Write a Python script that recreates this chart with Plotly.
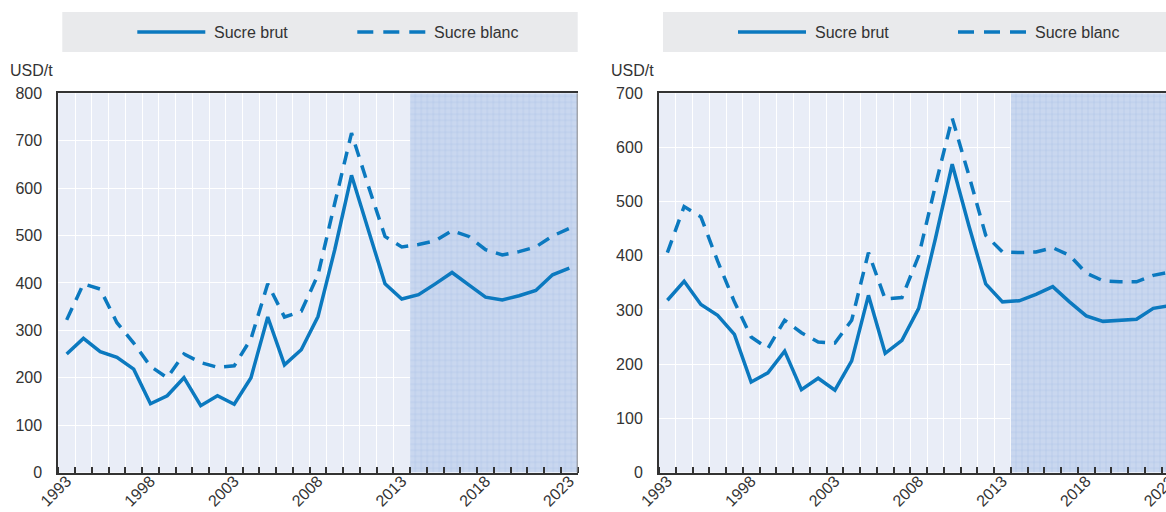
import plotly.graph_objects as go

# Years on the horizontal axis (2014 onwards are projections)
years = [1993, 1994, 1995, 1996, 1997, 1998, 1999, 2000, 2001, 2002, 2003,
         2004, 2005, 2006, 2007, 2008, 2009, 2010, 2011, 2012, 2013, 2014,
         2015, 2016, 2017, 2018, 2019, 2020, 2021, 2022, 2023]

# Panel 1 (USD/t)
brut_1 = [250, 283, 255, 243, 218, 145, 162, 200, 141, 162, 144,
          200, 328, 227, 259, 329, 470, 627, 512, 398, 366, 375,
          398, 422, 396, 370, 364, 373, 384, 417, 431]
blanc_1 = [322, 398, 387, 316, 273, 224, 200, 250, 232, 222, 225,
           282, 398, 328, 340, 417, 568, 716, 605, 498, 476, 481,
           489, 510, 498, 470, 459, 466, 476, 499, 515]

# Panel 2 (USD/t)
brut_2 = [318, 353, 310, 290, 255, 167, 184, 224, 153, 174, 152,
          206, 327, 220, 244, 303, 432, 569, 455, 348, 315, 317,
          329, 343, 315, 289, 279, 281, 283, 303, 308]
blanc_2 = [406, 491, 472, 390, 315, 250, 229, 281, 258, 241, 239,
           281, 406, 320, 323, 400, 530, 654, 548, 438, 407, 406,
           407, 415, 401, 368, 354, 352, 352, 364, 370]

projection_start = 2013.5
y_max = [800, 700]
series_names = ["Sucre brut", "Sucre blanc"]
unit_label = "USD/t"

W, H = 1200, 512
BLUE = "#0b79bf"
TEXT = "#333333"
FONT = "Liberation Sans, Arial, sans-serif"
DASH = "13px,9px"
LEGEND_DASH = "16px,10px"


def px(x):
    return x / W


def py(y):
    return 1 - y / H


panels = [
    dict(left=58.3, brut=brut_1, blanc=blanc_1, ymax=y_max[0]),
    dict(left=659.0, brut=brut_2, blanc=blanc_2, ymax=y_max[1]),
]
plot_w = 519.4
y_top, y_bot = 93.3, 472.5

fig = go.Figure()
shapes = []
annotations = []

x_lo = years[0] - 0.5
x_hi = years[-1] + 0.5

for i, p in enumerate(panels):
    n = "" if i == 0 else str(i + 1)
    xa, ya = "x" + n, "y" + n

    # projection period shading
    fig.add_trace(go.Scatter(
        x=[projection_start, x_hi, x_hi, projection_start, projection_start],
        y=[0, 0, p["ymax"], p["ymax"], 0],
        mode="lines", line=dict(width=0), fill="toself",
        fillcolor="#c7d6ee",
        fillpattern=dict(shape="+", size=6, solidity=0.25,
                         fgcolor="#a3bce4", bgcolor="#c9d7ef"),
        hoverinfo="skip", showlegend=False, xaxis=xa, yaxis=ya))

    fig.add_trace(go.Scatter(
        x=years, y=p["brut"], name=series_names[0], mode="lines",
        line=dict(color=BLUE, width=3.5), showlegend=False,
        xaxis=xa, yaxis=ya))
    fig.add_trace(go.Scatter(
        x=years, y=p["blanc"], name=series_names[1], mode="lines",
        line=dict(color=BLUE, width=3.5, dash=DASH), showlegend=False,
        xaxis=xa, yaxis=ya))

    left = p["left"]
    right = left + plot_w
    fig.layout["xaxis" + n] = dict(
        domain=[px(left), px(right)], range=[x_lo, x_hi], anchor=ya,
        automargin=False,
        tickmode="linear", tick0=years[0], dtick=5, ticks="",
        ticklabelstandoff=-9,
        showgrid=False, zeroline=False, tickangle=-45,
        showline=True, linecolor=TEXT, linewidth=2, mirror=True,
        tickfont=dict(family=FONT, size=16, color=TEXT),
        minor=dict(tickmode="linear", tick0=x_lo, dtick=1, ticks="inside",
                   ticklen=6, tickwidth=2, tickcolor=TEXT,
                   showgrid=True, gridcolor="white", gridwidth=1),
    )
    fig.layout["yaxis" + n] = dict(
        domain=[py(y_bot), py(y_top)], range=[0, p["ymax"]], anchor=xa,
        automargin=False,
        tickmode="linear", tick0=0, dtick=100,
        ticks="outside", ticklen=11, tickcolor="rgba(0,0,0,0)",
        showgrid=True, gridcolor="white", gridwidth=1, zeroline=False,
        showline=True, linecolor=TEXT, linewidth=2,
        tickfont=dict(family=FONT, size=16, color=TEXT),
    )

    # right border of the plot area
    shapes.append(dict(type="line", xref=xa, yref=ya + " domain",
                       x0=x_hi, x1=x_hi, y0=0, y1=1,
                       line=dict(color="#8c8c8c", width=2)))

    # legend strip above each panel
    shapes.append(dict(type="rect", xref="paper", yref="paper",
                       x0=px(left + 4), x1=px(right), y0=py(52), y1=py(12),
                       fillcolor="#e9eaec", line=dict(width=0), layer="below"))
    for k, dash in enumerate(["solid", LEGEND_DASH]):
        lx = left + 79 + k * 220
        shapes.append(dict(type="line", xref="paper", yref="paper",
                           x0=px(lx), x1=px(lx + 68), y0=py(32), y1=py(32),
                           line=dict(color=BLUE, width=3.5, dash=dash)))
        annotations.append(dict(xref="paper", yref="paper",
                                x=px(lx + 75), y=py(32), text=series_names[k],
                                showarrow=False, xanchor="left",
                                yanchor="middle",
                                font=dict(family=FONT, size=16, color=TEXT)))

    # unit label
    annotations.append(dict(xref="paper", yref="paper",
                            x=px(left - 50), y=py(70), text=unit_label,
                            showarrow=False, xanchor="left", yanchor="middle",
                            font=dict(family=FONT, size=16, color=TEXT)))

fig.update_layout(
    width=W, height=H,
    margin=dict(l=0, r=0, t=0, b=0),
    paper_bgcolor="white", plot_bgcolor="#e9edf7",
    shapes=shapes, annotations=annotations,
    showlegend=False,
)

fig.write_html(
    "out.html",
    post_script="document.documentElement.style.overflow='hidden';"
                "document.body.style.overflow='hidden';",
)
